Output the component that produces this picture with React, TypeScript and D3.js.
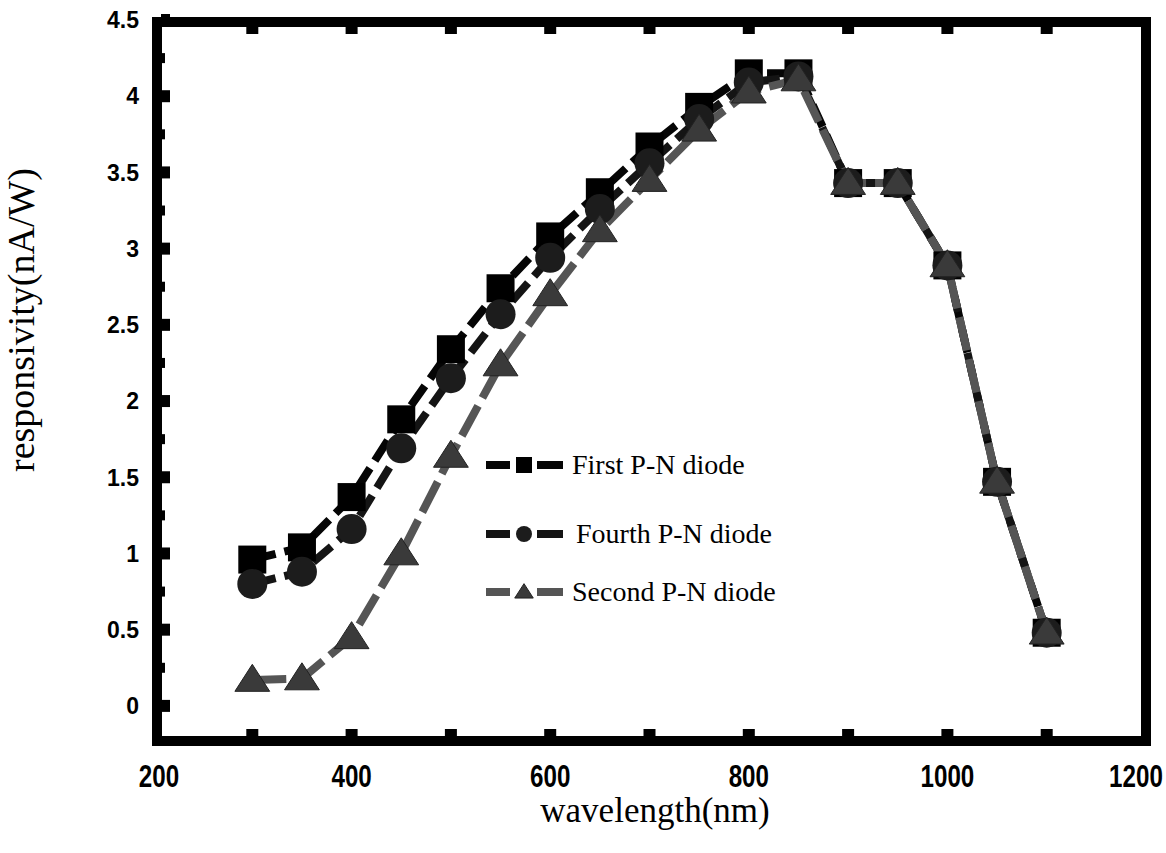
import * as d3 from 'd3';

const WIDTH = 1166;
const HEIGHT = 853;

// wavelength (nm)
const wavelength = [300, 350, 400, 450, 500, 550, 600, 650, 700, 750, 800, 850, 900, 950, 1000, 1050, 1100];
// responsivity (nA/W)
const firstDiode = [0.96, 1.04, 1.37, 1.88, 2.34, 2.74, 3.08, 3.37, 3.67, 3.93, 4.15, 4.15, 3.43, 3.43, 2.89, 1.47, 0.48];
const fourthDiode = [0.8, 0.88, 1.16, 1.69, 2.15, 2.57, 2.94, 3.26, 3.56, 3.85, 4.09, 4.13, 3.43, 3.43, 2.89, 1.47, 0.48];
const secondDiode = [0.17, 0.18, 0.45, 1.0, 1.64, 2.24, 2.7, 3.12, 3.45, 3.78, 4.03, 4.11, 3.43, 3.43, 2.89, 1.47, 0.48];

const xTickLabels = [200, 400, 600, 800, 1000, 1200];
const xTickMarks = [300, 400, 500, 600, 700, 800, 900, 1000, 1100];
const yTickLabels = [0, 0.5, 1, 1.5, 2, 2.5, 3, 3.5, 4, 4.5];
const yMinorTicks = [0.25, 0.75, 1.25, 1.75, 2.25, 2.75, 3.25, 3.75, 4.25];

const legendNames = ['First P-N diode', 'Fourth P-N diode', 'Second P-N diode'];

const x = d3.scaleLinear().domain([200, 1200]).range([153, 1146]);
const y = d3.scaleLinear().domain([-0.25, 4.5]).range([744, 20]);

const FRAME = { left: 157, right: 1146, top: 22, bottom: 741 };

type Pt = { w: number; v: number };
const toPts = (vals: number[]): Pt[] => vals.map((v, i) => ({ w: wavelength[i], v }));

const line = d3
  .line<Pt>()
  .x((d) => x(d.w))
  .y((d) => y(d.v));

const series = [
  { name: legendNames[0], pts: toPts(firstDiode), color: '#050505', dash: '24 9', marker: 'square' },
  { name: legendNames[1], pts: toPts(fourthDiode), color: '#141414', dash: '24 9', marker: 'circle' },
  { name: legendNames[2], pts: toPts(secondDiode), color: '#555555', dash: '34 9', marker: 'triangle' },
];

function Marker({ kind, cx, cy, s }: { kind: string; cx: number; cy: number; s: number }) {
  if (kind === 'square') {
    return <rect x={cx - s / 2} y={cy - s / 2} width={s} height={s} fill="#000" />;
  }
  if (kind === 'circle') {
    return <circle cx={cx} cy={cy} r={s / 2} fill="#1c1c1c" />;
  }
  const h = s * 0.9;
  const sym = `M${cx},${cy - h * 0.58} L${cx + s * 0.58},${cy + h * 0.42} L${cx - s * 0.58},${cy + h * 0.42} Z`;
  return <path d={sym} fill="#3a3a3a" stroke="#222" strokeWidth={1} />;
}

export default function App() {
  const markerSize = { square: 28, circle: 30, triangle: 30 } as Record<string, number>;
  const legendY = [465, 534, 592];

  return (
    <div style={{ position: 'absolute', left: 0, top: 0, width: WIDTH, height: HEIGHT, background: '#fff' }}>
      <svg width={WIDTH} height={HEIGHT} viewBox={`0 0 ${WIDTH} ${HEIGHT}`}>
        <rect width={WIDTH} height={HEIGHT} fill="#fff" />

        {/* lines */}
        {series.map((s) => (
          <path
            key={s.name + '-line'}
            d={line(s.pts) || ''}
            fill="none"
            stroke={s.color}
            strokeWidth={8}
            strokeDasharray={s.dash}
          />
        ))}

        {/* markers */}
        {series.map((s) => (
          <g key={s.name + '-pts'}>
            {s.pts.map((d, i) => (
              <Marker key={i} kind={s.marker} cx={x(d.w)} cy={y(d.v)} s={markerSize[s.marker]} />
            ))}
          </g>
        ))}

        {/* frame */}
        <rect
          x={FRAME.left}
          y={FRAME.top}
          width={FRAME.right - FRAME.left}
          height={FRAME.bottom - FRAME.top}
          fill="none"
          stroke="#000"
          strokeWidth={10}
        />

        {/* ticks, pointing inwards */}
        {xTickMarks.map((t) => (
          <g key={'xt' + t}>
            <rect x={x(t) - 6} y={FRAME.bottom - 12} width={12} height={8} fill="#000" />
            <rect x={x(t) - 6} y={FRAME.top + 4} width={12} height={8} fill="#000" />
          </g>
        ))}
        {yTickLabels.map((t) => (
          <rect key={'yt' + t} x={FRAME.left + 4} y={y(t) - 6} width={9} height={12} fill="#000" />
        ))}
        {yMinorTicks.map((t) => (
          <rect key={'ym' + t} x={FRAME.left + 4} y={y(t) - 5} width={4} height={10} fill="#000" />
        ))}

        {/* tick labels */}
        {xTickLabels.map((t) => {
          const cx = t === 200 ? x(t) + 6 : t === 1200 ? x(t) - 10 : x(t);
          return (
            <text
              key={'xl' + t}
              transform={`translate(${cx},787) scale(0.78,1)`}
              textAnchor="middle"
              fontFamily="'Liberation Sans', Arial, sans-serif"
              fontWeight="bold"
              fontSize={31}
              fill="#000"
            >
              {t}
            </text>
          );
        })}
        {yTickLabels.map((t) => (
          <text
            key={'yl' + t}
            x={139}
            y={y(t)}
            dy="0.36em"
            textAnchor="end"
            fontFamily="'Liberation Sans', Arial, sans-serif"
            fontWeight="bold"
            fontSize={23}
            fill="#000"
          >
            {t}
          </text>
        ))}

        {/* axis titles */}
        <text
          x={655}
          y={822}
          textAnchor="middle"
          fontFamily="'Liberation Serif', 'Times New Roman', serif"
          fontSize={35}
          fill="#000"
        >
          wavelength(nm)
        </text>
        <text
          transform="translate(34,320) rotate(-90)"
          textAnchor="middle"
          fontFamily="'Liberation Serif', 'Times New Roman', serif"
          fontSize={38}
          fill="#000"
        >
          responsivity(nA/W)
        </text>

        {/* legend */}
        {series.map((s, i) => (
          <g key={s.name + '-legend'}>
            <rect x={486} y={legendY[i] - 4} width={24} height={8} fill={s.color} />
            <rect x={537} y={legendY[i] - 4} width={26} height={8} fill={s.color} />
            <Marker kind={s.marker} cx={524} cy={legendY[i]} s={16} />
            <text
              x={i === 1 ? 576 : 572}
              y={legendY[i]}
              dy="0.33em"
              fontFamily="'Liberation Serif', 'Times New Roman', serif"
              fontSize={28}
              fill="#000"
            >
              {s.name}
            </text>
          </g>
        ))}
      </svg>
    </div>
  );
}
